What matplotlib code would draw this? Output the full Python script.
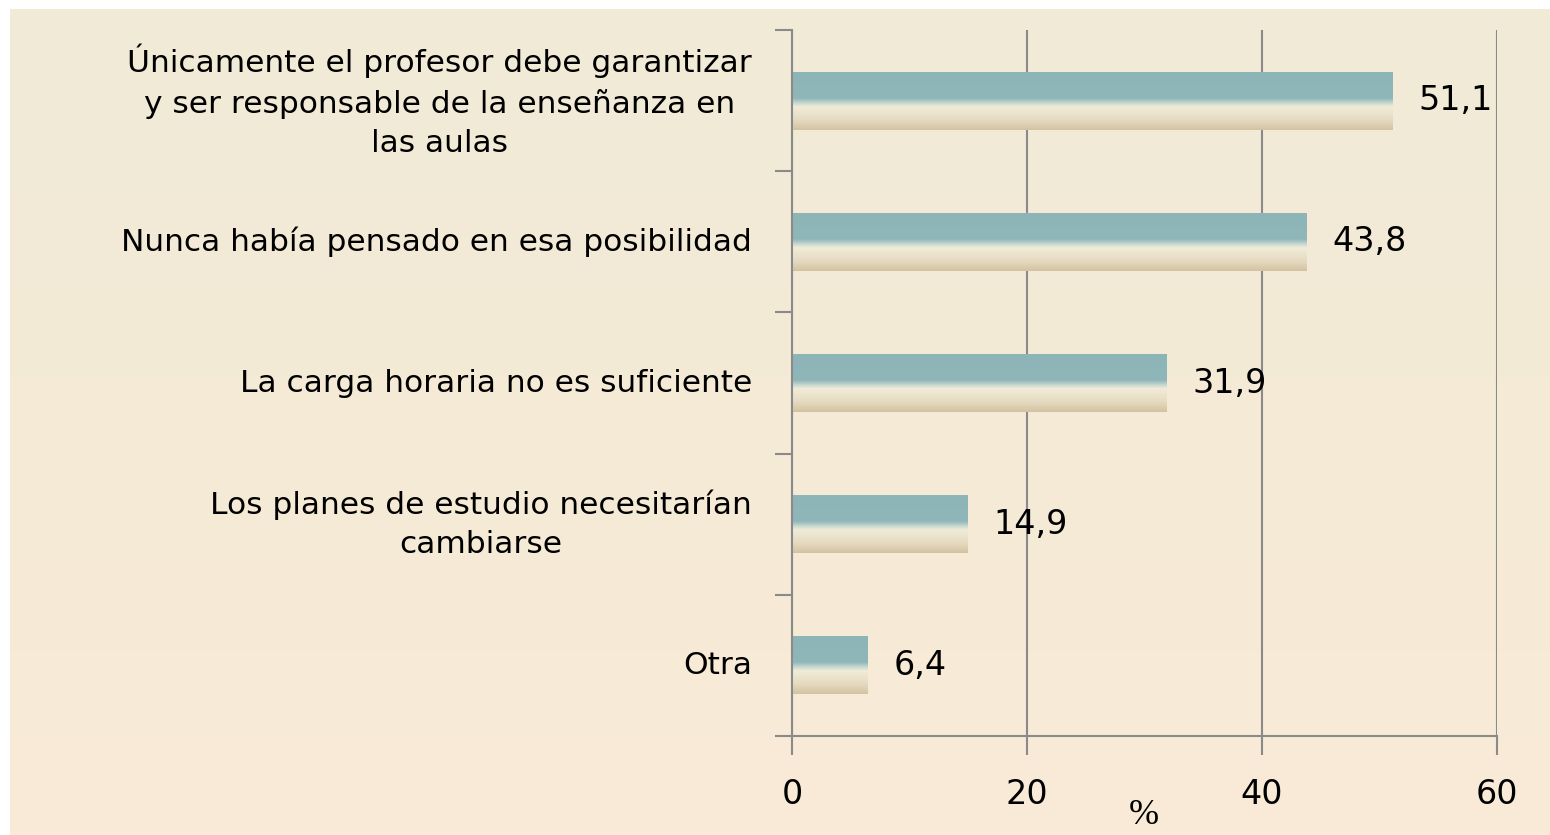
import numpy as np
import matplotlib
matplotlib.use("Agg")
import matplotlib.pyplot as plt
from matplotlib.colors import LinearSegmentedColormap

categories = [
    "Únicamente el profesor debe garantizar\ny ser responsable de la enseñanza en\nlas aulas",
    "Nunca había pensado en esa posibilidad",
    "La carga horaria no es suficiente",
    "Los planes de estudio necesitarían\ncambiarse",
    "Otra",
]
values = [51.1, 43.8, 31.9, 14.9, 6.4]
value_labels = ["51,1", "43,8", "31,9", "14,9", "6,4"]
xticks = [0, 20, 40, 60]

fig = plt.figure(figsize=(15.5, 8.35), dpi=100)
fig.patch.set_facecolor("white")

# background panel with soft gradient
bg = fig.add_axes([10 / 1550, 0, 1 - 10 / 1550, 1 - 9 / 835])
bg_cmap = LinearSegmentedColormap.from_list("bg", ["#F9EBD6", "#F0EAD6"])
bg.imshow(np.linspace(0, 1, 256).reshape(-1, 1), cmap=bg_cmap, aspect="auto",
          origin="lower", extent=[0, 1, 0, 1])
bg.set_axis_off()

ax = fig.add_axes([792 / 1550, 1 - 736 / 835, (1497 - 792) / 1550, (736 - 30) / 835])
ax.patch.set_alpha(0)

bar_cmap = LinearSegmentedColormap.from_list("bar", [
    (0.0, "#8DB4B6"), (0.45, "#8FB6B8"), (0.53, "#C4D6CF"),
    (0.60, "#F1ECD8"), (0.82, "#E6DBC2"), (1.0, "#D3C3A1")])

y = np.arange(len(categories))
bars = ax.barh(y, values, height=0.41, color="none", zorder=2)
grad = np.linspace(0, 1, 200).reshape(-1, 1)
for b in bars:
    x0, y0, w, h = b.get_x(), b.get_y(), b.get_width(), b.get_height()
    ax.imshow(grad, cmap=bar_cmap, aspect="auto", origin="upper",
              extent=[x0, x0 + w, y0 + h, y0], zorder=2, interpolation="bilinear")

ax.set_xlim(0, 60)
ax.set_ylim(len(categories) - 0.5, -0.5)

for v, yy, lab in zip(values, y, value_labels):
    ax.annotate(lab, (v, yy), xytext=(26, 0), textcoords="offset pixels",
                ha="left", va="center", fontsize=24, color="black")

for yy, cat in zip(y, categories):
    ax.annotate(cat, (0, yy), xytext=(-40, 0), textcoords="offset pixels",
                ha="right", va="center", multialignment="center",
                fontsize=22.5, linespacing=1.45, color="black")

ax.set_xticks(xticks)
ax.set_xticklabels([str(t) for t in xticks], fontsize=24)
ax.xaxis.grid(True, color="#8A8A8A", linewidth=1.5, zorder=1)
ax.set_axisbelow(True)
ax.set_yticks(np.arange(-0.5, len(categories), 1.0))
ax.set_yticklabels([])
ax.tick_params(axis="y", length=12, width=1.5, color="#8A8A8A", direction="out")
ax.tick_params(axis="x", length=14, width=1.5, color="#8A8A8A", direction="out", pad=16)

for s in ["top", "right"]:
    ax.spines[s].set_visible(False)
for s in ["left", "bottom"]:
    ax.spines[s].set_color("#8A8A8A")
    ax.spines[s].set_linewidth(1.5)

ax.set_xlabel("%", fontsize=26, fontfamily="Liberation Serif")
ax.xaxis.set_label_coords(0.499, -0.112)
ax.xaxis.label.set_verticalalignment("center")

fig.savefig("out.png", dpi=100)
